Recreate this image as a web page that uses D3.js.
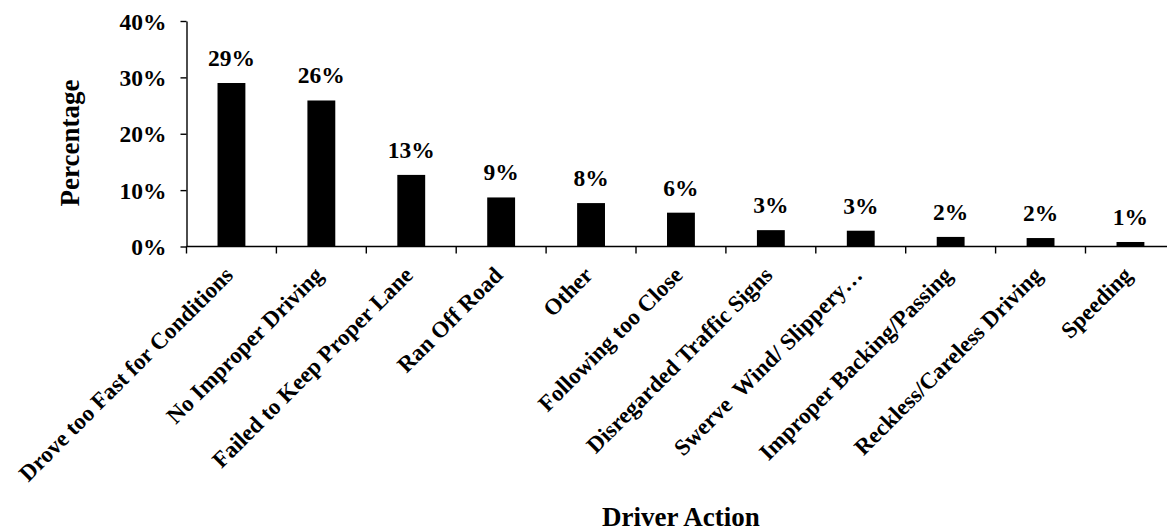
<!DOCTYPE html>
<html>
<head>
<meta charset="utf-8">
<script src="https://cdn.jsdelivr.net/npm/d3@7"></script>
<style>
  html, body { margin: 0; padding: 0; background: #fff; }
  svg { display: block; }
  text { font-family: "Liberation Serif", "Times New Roman", serif; font-weight: bold; fill: #000; white-space: pre; }
</style>
</head>
<body>
<svg id="chart" width="1167" height="531"></svg>
<script>
// Share of crashes by driver action
const categories = [
  "Drove too Fast for Conditions",
  "No Improper Driving",
  "Failed to Keep Proper Lane",
  "Ran Off Road",
  "Other",
  "Following too Close",
  "Disregarded Traffic Signs",
  "Swerve  Wind/ Slippery\u2026",
  "Improper Backing/Passing",
  "Reckless/Careless Driving",
  "Speeding"
];
const shares = [0.290, 0.259, 0.127, 0.087, 0.077, 0.060, 0.029, 0.028, 0.017, 0.015, 0.008];
const yTicks = [0, 0.1, 0.2, 0.3, 0.4];

const svg = d3.select("#chart");
const plotLeft = 186.5, plotTop = 21, plotBottom = 246.5;
const step = 89.9;
const plotRight = plotLeft + step * categories.length;

const x = d3.scaleBand()
  .domain(categories)
  .range([plotLeft, plotRight])
  .paddingInner(0.69)
  .paddingOuter(0.345);

const y = d3.scaleLinear().domain([0, 0.4]).range([plotBottom, plotTop]);
const pct = d3.format(".0%");

// bars
svg.append("g").selectAll("rect")
  .data(categories)
  .join("rect")
  .attr("x", d => x(d))
  .attr("width", x.bandwidth())
  .attr("y", (d, i) => y(shares[i]))
  .attr("height", (d, i) => y(0) - y(shares[i]))
  .attr("fill", "#000");

// value labels
svg.append("g").selectAll("text")
  .data(categories)
  .join("text")
  .attr("x", d => x(d) + x.bandwidth() / 2)
  .attr("y", (d, i) => y(shares[i]) - 17)
  .attr("text-anchor", "middle")
  .attr("font-size", 23.5)
  .text((d, i) => pct(shares[i]));

// y axis
const yAxis = svg.append("g")
  .attr("transform", `translate(${plotLeft},0)`)
  .call(d3.axisLeft(y).tickValues(yTicks).tickFormat(pct).tickSize(6).tickSizeOuter(0).tickPadding(14));
yAxis.attr("font-family", null).attr("font-size", null);
yAxis.select(".domain").attr("stroke", "#000").attr("stroke-width", 1.4);
yAxis.selectAll(".tick line").attr("stroke", "#000").attr("stroke-width", 1.4);
yAxis.selectAll(".tick text")
  .attr("font-size", 23.5)
  .attr("dy", "0.35em");

// x axis line and boundary ticks
const xg = svg.append("g");
xg.append("line")
  .attr("x1", plotLeft).attr("x2", plotRight)
  .attr("y1", plotBottom).attr("y2", plotBottom)
  .attr("stroke", "#000").attr("stroke-width", 1.4);
xg.selectAll("line.tick")
  .data(d3.range(categories.length + 1))
  .join("line")
  .attr("class", "tick")
  .attr("x1", i => plotLeft + i * x.step())
  .attr("x2", i => plotLeft + i * x.step())
  .attr("y1", plotBottom).attr("y2", plotBottom + 7)
  .attr("stroke", "#000").attr("stroke-width", 1.4);

// rotated category labels
xg.selectAll("text")
  .data(categories)
  .join("text")
  .attr("transform", d => `translate(${x(d) + x.bandwidth() / 2 + 3},${plotBottom + 30}) rotate(-45)`)
  .attr("text-anchor", "end")
  .attr("font-size", 23)
  .text(d => d);

// axis titles
svg.append("text")
  .attr("transform", `translate(79,143) rotate(-90)`)
  .attr("text-anchor", "middle")
  .attr("font-size", 27)
  .text("Percentage");

svg.append("text")
  .attr("x", (plotLeft + plotRight) / 2)
  .attr("y", 526)
  .attr("text-anchor", "middle")
  .attr("font-size", 27)
  .text("Driver Action");
</script>
</body>
</html>
